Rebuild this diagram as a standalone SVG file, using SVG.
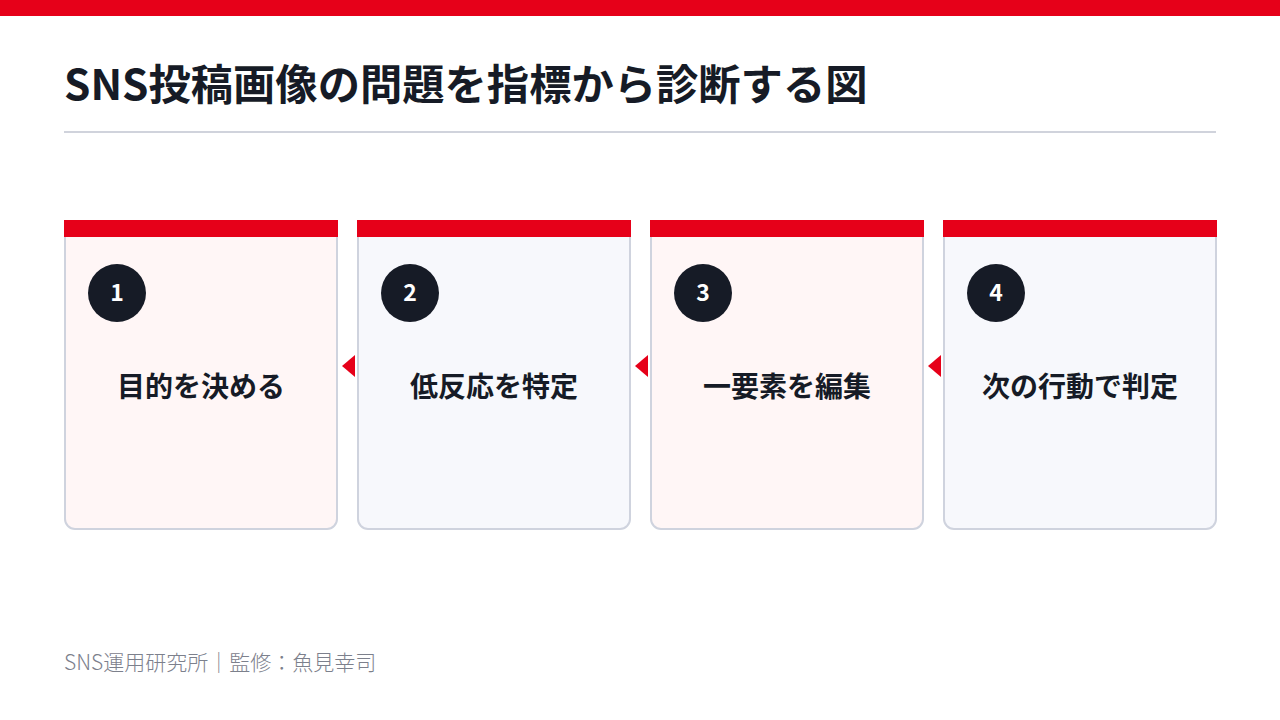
<svg xmlns="http://www.w3.org/2000/svg" width="1280" height="720" viewBox="0 0 1280 720">
<style>
.t{font-family:"Noto Sans CJK JP","Noto Sans",sans-serif;}
.title{font-size:42.3px;font-weight:700;fill:#161b26;}
.lbl{font-size:28px;font-weight:700;fill:#161b26;text-anchor:middle;}
.num{font-size:23px;font-weight:700;fill:#ffffff;text-anchor:middle;}
.foot{font-size:21px;font-weight:300;fill:#7c808c;}
.card{stroke:#cfd3de;stroke-width:2;}
.bar{fill:#e60019;}
.circ{fill:#161b26;}
.arr{fill:#e60019;}
</style>
<rect x="0" y="0" width="1280" height="16" fill="#e60019"/>
<text class="t title" x="64" y="100">SNS投稿画像の問題を指標から診断する図</text>
<rect x="64" y="131" width="1152" height="2" fill="#d0d3dc"/>
<g id="connectors">
<polygon class="arr" points="342,366 355,355 355,377"/>
<polygon class="arr" points="635,366 648,355 648,377"/>
<polygon class="arr" points="928,366 941,355 941,377"/>
</g>
<g id="node1">
<path class="card" fill="#fff6f6" d="M65,228 H337 V519 a10,10 0 0 1 -10,10 H75 a10,10 0 0 1 -10,-10 Z"/>
<rect class="bar" x="64" y="220" width="274" height="17"/>
<circle class="circ" cx="117" cy="293" r="29"/>
<text class="t num" x="117" y="301">1</text>
<text class="t lbl" x="201" y="397">目的を決める</text>
</g>
<g id="node2">
<path class="card" fill="#f7f8fc" d="M358,228 H630 V519 a10,10 0 0 1 -10,10 H368 a10,10 0 0 1 -10,-10 Z"/>
<rect class="bar" x="357" y="220" width="274" height="17"/>
<circle class="circ" cx="410" cy="293" r="29"/>
<text class="t num" x="410" y="301">2</text>
<text class="t lbl" x="494" y="397">低反応を特定</text>
</g>
<g id="node3">
<path class="card" fill="#fff6f6" d="M651,228 H923 V519 a10,10 0 0 1 -10,10 H661 a10,10 0 0 1 -10,-10 Z"/>
<rect class="bar" x="650" y="220" width="274" height="17"/>
<circle class="circ" cx="703" cy="293" r="29"/>
<text class="t num" x="703" y="301">3</text>
<text class="t lbl" x="787" y="397">一要素を編集</text>
</g>
<g id="node4">
<path class="card" fill="#f7f8fc" d="M944,228 H1216 V519 a10,10 0 0 1 -10,10 H954 a10,10 0 0 1 -10,-10 Z"/>
<rect class="bar" x="943" y="220" width="274" height="17"/>
<circle class="circ" cx="996" cy="293" r="29"/>
<text class="t num" x="996" y="301">4</text>
<text class="t lbl" x="1080" y="397">次の行動で判定</text>
</g>
<text class="t foot" x="64" y="670">SNS運用研究所｜監修：魚見幸司</text>
</svg>
